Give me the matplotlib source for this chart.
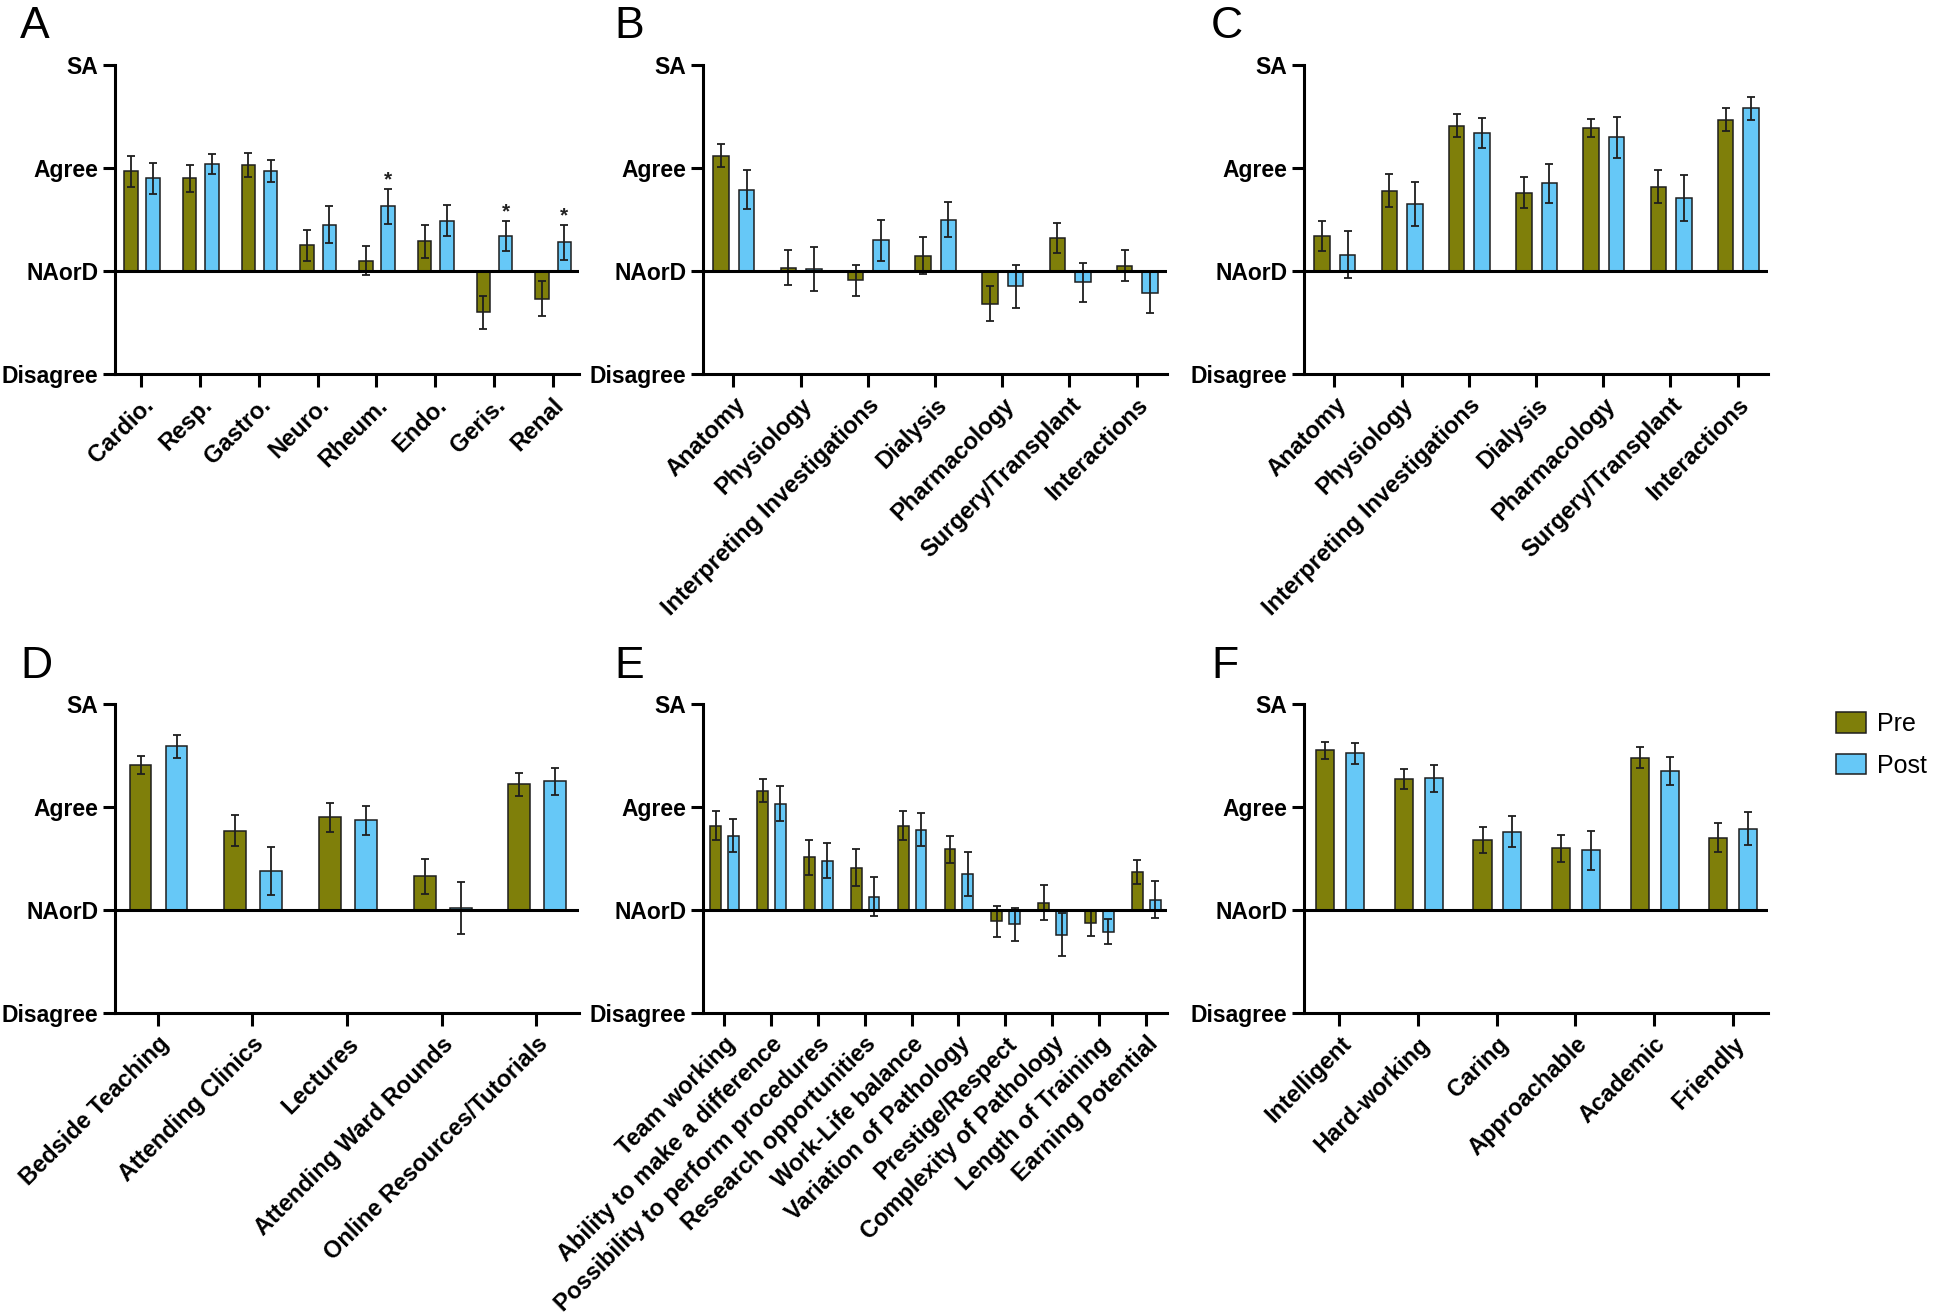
import matplotlib
matplotlib.use("Agg")
import matplotlib.pyplot as plt
from matplotlib.patches import Patch
import numpy as np

plt.rcParams['font.family'] = ['Liberation Sans', 'DejaVu Sans']

PRE_COLOR = '#7f7f0a'
POST_COLOR = '#66c8f7'
EDGE = '#1e1e1e'

y_ticks = [-1, 0, 1, 2]
y_labels = ['Disagree', 'NAorD', 'Agree', 'SA']

# panel A - specialties
a_cats = ['Cardio.', 'Resp.', 'Gastro.', 'Neuro.', 'Rheum.', 'Endo.', 'Geris.', 'Renal']
a_pre = [0.97, 0.90, 1.03, 0.25, 0.10, 0.29, -0.40, -0.27]
a_pre_err = [0.15, 0.13, 0.12, 0.15, 0.14, 0.16, 0.16, 0.17]
a_post = [0.90, 1.04, 0.97, 0.45, 0.63, 0.49, 0.34, 0.28]
a_post_err = [0.15, 0.10, 0.11, 0.18, 0.17, 0.15, 0.15, 0.17]
a_stars = [4, 6, 7]

# panel B / C - renal topics
bc_cats = ['Anatomy', 'Physiology', 'Interpreting Investigations', 'Dialysis',
           'Pharmacology', 'Surgery/Transplant', 'Interactions']
b_pre = [1.12, 0.03, -0.09, 0.15, -0.32, 0.32, 0.05]
b_pre_err = [0.11, 0.17, 0.15, 0.18, 0.17, 0.15, 0.15]
b_post = [0.79, 0.02, 0.30, 0.50, -0.15, -0.11, -0.21]
b_post_err = [0.19, 0.21, 0.20, 0.17, 0.21, 0.19, 0.20]

c_pre = [0.34, 0.78, 1.41, 0.76, 1.39, 0.82, 1.47]
c_pre_err = [0.15, 0.16, 0.11, 0.15, 0.09, 0.16, 0.11]
c_post = [0.16, 0.65, 1.34, 0.85, 1.30, 0.71, 1.58]
c_post_err = [0.23, 0.21, 0.15, 0.19, 0.20, 0.22, 0.11]

# panel D - teaching formats
d_cats = ['Bedside Teaching', 'Attending Clinics', 'Lectures',
          'Attending Ward Rounds', 'Online Resources/Tutorials']
d_pre = [1.41, 0.77, 0.90, 0.33, 1.22]
d_pre_err = [0.09, 0.15, 0.14, 0.17, 0.11]
d_post = [1.59, 0.38, 0.87, 0.02, 1.25]
d_post_err = [0.11, 0.23, 0.14, 0.25, 0.13]

# panel E - career factors
e_cats = ['Team working', 'Ability to make a difference',
          'Possibility to perform procedures', 'Research opportunities',
          'Work-Life balance', 'Variation of Pathology', 'Prestige/Respect',
          'Complexity of Pathology', 'Length of Training', 'Earning Potential']
e_pre = [0.82, 1.16, 0.51, 0.41, 0.82, 0.59, -0.11, 0.07, -0.13, 0.37]
e_pre_err = [0.14, 0.11, 0.17, 0.18, 0.14, 0.13, 0.15, 0.17, 0.12, 0.12]
e_post = [0.72, 1.03, 0.48, 0.13, 0.78, 0.35, -0.14, -0.24, -0.21, 0.10]
e_post_err = [0.16, 0.17, 0.17, 0.19, 0.16, 0.21, 0.16, 0.21, 0.12, 0.18]

# panel F - attributes
f_cats = ['Intelligent', 'Hard-working', 'Caring', 'Approachable', 'Academic', 'Friendly']
f_pre = [1.55, 1.27, 0.68, 0.60, 1.48, 0.70]
f_pre_err = [0.08, 0.10, 0.13, 0.13, 0.10, 0.14]
f_post = [1.52, 1.28, 0.76, 0.58, 1.35, 0.79]
f_post_err = [0.10, 0.13, 0.15, 0.19, 0.14, 0.16]

W, H = 1944, 1315
fig = plt.figure(figsize=(W / 100, H / 100), dpi=100)

LW = 2.2
BAR_W = 0.23


def draw_panel(ax, cats, pre, pre_err, post, post_err, stars=()):
    x = np.arange(len(cats))
    xp = x - 0.18
    xq = x + 0.20
    ax.bar(xp, pre, BAR_W, color=PRE_COLOR, edgecolor=EDGE, linewidth=1.1, zorder=2)
    ax.bar(xq, post, BAR_W, color=POST_COLOR, edgecolor=EDGE, linewidth=1.1, zorder=2)
    ax.errorbar(xp, pre, yerr=pre_err, fmt='none', ecolor=EDGE, elinewidth=1.3,
                capsize=3, capthick=1.3, zorder=3)
    ax.errorbar(xq, post, yerr=post_err, fmt='none', ecolor=EDGE, elinewidth=1.3,
                capsize=3, capthick=1.3, zorder=3)
    for i in stars:
        ax.text(xq[i], post[i] + post_err[i] - 0.01, '*', ha='center', va='bottom',
                fontsize=15, fontweight='bold', color='#222222')
    ax.axhline(0, color='black', lw=LW, zorder=4)
    ax.set_ylim(-1, 2)
    ax.set_xlim(-0.45, len(cats) - 1 + 0.45)
    for s in ['top', 'right']:
        ax.spines[s].set_visible(False)
    for s in ['left', 'bottom']:
        ax.spines[s].set_linewidth(LW)
    ax.set_yticks(y_ticks)
    ax.set_yticklabels(y_labels, fontweight='bold', fontsize=16.5)
    ax.set_xticks(x)
    ax.set_xticklabels(cats, rotation=45, ha='right', rotation_mode='anchor',
                       fontweight='bold', fontsize=17)
    ax.tick_params(axis='both', width=LW, length=9, pad=3)
    ax.tick_params(axis='x', pad=5)


lefts = [115, 703, 1304]
tops = [65, 704]
aw, ah = 464, 309

panels = [
    (a_cats, a_pre, a_pre_err, a_post, a_post_err, a_stars),
    (bc_cats, b_pre, b_pre_err, b_post, b_post_err, ()),
    (bc_cats, c_pre, c_pre_err, c_post, c_post_err, ()),
    (d_cats, d_pre, d_pre_err, d_post, d_post_err, ()),
    (e_cats, e_pre, e_pre_err, e_post, e_post_err, ()),
    (f_cats, f_pre, f_pre_err, f_post, f_post_err, ()),
]
letters = ['A', 'B', 'C', 'D', 'E', 'F']
letter_x = [20, 614, 1211]
letter_y = [6, 646]

for k, p in enumerate(panels):
    r, c = divmod(k, 3)
    ax = fig.add_axes([lefts[c] / W, 1 - (tops[r] + ah) / H, aw / W, ah / H])
    draw_panel(ax, *p)
    fig.text(letter_x[c] / W, 1 - letter_y[r] / H, letters[k], fontsize=32,
             ha='left', va='top')

handles = [Patch(facecolor=PRE_COLOR, edgecolor=EDGE, linewidth=1.1, label='Pre'),
           Patch(facecolor=POST_COLOR, edgecolor=EDGE, linewidth=1.1, label='Post')]
fig.legend(handles=handles, loc='upper left', bbox_to_anchor=(1836 / W, 1 - 712 / H),
           frameon=False, fontsize=18, handlelength=1.2, handleheight=0.9,
           handletextpad=0.45, labelspacing=0.7, borderaxespad=0, borderpad=0)

fig.savefig('out.png', dpi=100, facecolor='white')
